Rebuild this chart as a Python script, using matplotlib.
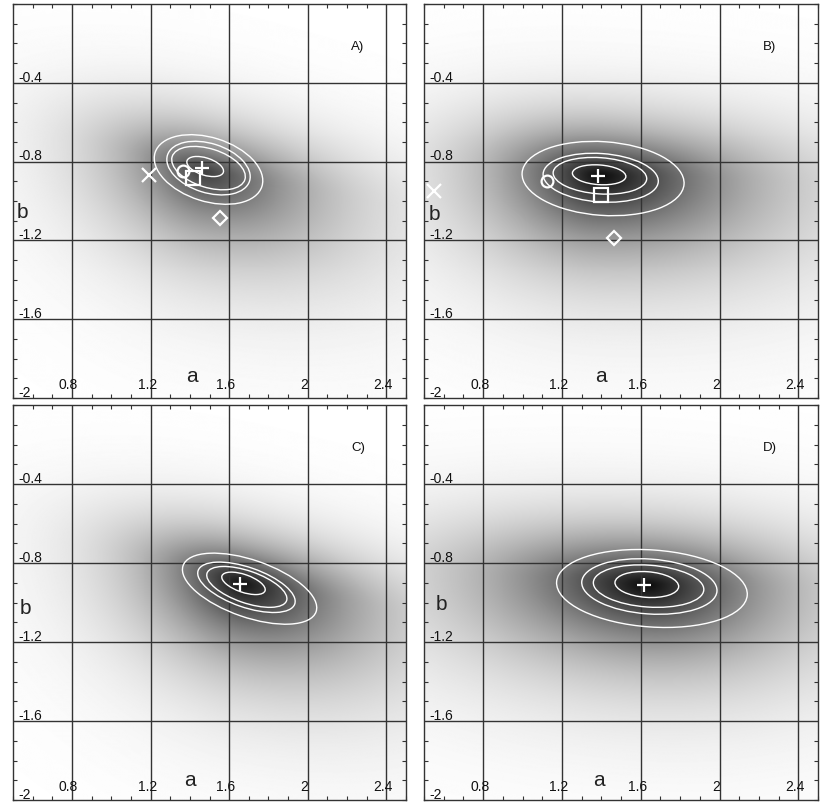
import numpy as np
import matplotlib.pyplot as plt
from matplotlib.patches import Ellipse

plt.rcParams['font.family'] = ['Liberation Sans', 'DejaVu Sans']

# axes ranges, grid and tick labels (same in every panel)
a_lim = (0.5, 2.5)
b_lim = (-2.0, 0.0)
a_ticks = [0.8, 1.2, 1.6, 2.0, 2.4]
a_labels = ['0.8', '1.2', '1.6', '2', '2.4']
b_ticks = [-0.4, -0.8, -1.2, -1.6]
b_labels = ['-0.4', '-0.8', '-1.2', '-1.6']
panel_names = ['A)', 'B)', 'C)', 'D)']

# grey background density: centre, depth, shear, scales left/right/up/down
shade_a0 = [1.47, 1.39, 1.66, 1.63]
shade_b0 = [-0.85, -0.87, -0.90, -0.91]
shade_depth = [0.75, 0.95, 0.92, 0.95]
shade_shear = [0.20, 0.05, 0.20, 0.05]
shade_left = [0.44, 0.50, 0.45, 0.75]
shade_right = [0.60, 0.72, 0.60, 0.65]
shade_up = [0.21, 0.22, 0.20, 0.23]
shade_down = [0.36, 0.36, 0.36, 0.35]

# white contours: (a centre, b centre, semi-major, semi-minor, angle in deg)
contours_A = [(1.495, -0.840, 0.285, 0.162, -17.5), (1.495, -0.833, 0.219, 0.125, -17.5),
              (1.495, -0.833, 0.194, 0.098, -17.5), (1.478, -0.825, 0.097, 0.044, -17.5)]
contours_B = [(1.409, -0.886, 0.412, 0.187, -4), (1.397, -0.882, 0.293, 0.123, -4),
              (1.393, -0.872, 0.238, 0.092, -4), (1.389, -0.867, 0.136, 0.050, -4)]
contours_C = [(1.704, -0.930, 0.358, 0.145, -19), (1.688, -0.923, 0.260, 0.101, -19),
              (1.690, -0.921, 0.214, 0.081, -19), (1.673, -0.903, 0.116, 0.045, -19)]
contours_D = [(1.657, -0.929, 0.485, 0.195, -4), (1.644, -0.919, 0.344, 0.139, -4),
              (1.640, -0.917, 0.281, 0.106, -4), (1.631, -0.909, 0.162, 0.065, -4)]
all_contours = [contours_A, contours_B, contours_C, contours_D]

# point estimates
plus_a = [1.460, 1.384, 1.656, 1.617]
plus_b = [-0.833, -0.872, -0.906, -0.911]
circle_a = [1.364, 1.123]
circle_b = [-0.847, -0.901]
square_a = [1.418, 1.396]
square_b = [-0.884, -0.969]
cross_a = [1.194, 0.553]
cross_b = [-0.867, -0.950]
diamond_a = [1.554, 1.464]
diamond_b = [-1.084, -1.188]

# axis name positions
aname_pos = [(1.41, -1.89), (1.40, -1.89), (1.40, -1.90), (1.39, -1.90)]
bname_pos = [(0.548, -1.06), (0.553, -1.07), (0.565, -1.03), (0.587, -1.01)]


def shade(A, B, i):
    u = A - shade_a0[i]
    v = (B - shade_b0[i]) + shade_shear[i] * u
    su = np.where(u < 0, shade_left[i], shade_right[i])
    sv = np.where(v > 0, shade_up[i], shade_down[i])
    r = np.sqrt((u / su)**2 + (v / sv)**2)
    return 1 - shade_depth[i] * np.exp(-r**1.2)


fig = plt.figure(figsize=(8.3, 8.06), dpi=100)
W, H = 830., 806.
# panel boxes in pixels: left, top, right, bottom
boxes = [(13, 4, 406, 398), (424, 4, 818, 398), (13, 405, 406, 800), (424, 405, 818, 800)]

ga = np.linspace(a_lim[0], a_lim[1], 400)
gb = np.linspace(b_lim[0], b_lim[1], 400)
GA, GB = np.meshgrid(ga, gb)

gridcol = '#333333'
txtcol = '#111111'

for i in range(4):
    l, t, r, btm = boxes[i]
    ax = fig.add_axes([l / W, 1 - btm / H, (r - l) / W, (btm - t) / H])

    ax.imshow(shade(GA, GB, i), extent=[a_lim[0], a_lim[1], b_lim[0], b_lim[1]],
              origin='lower', cmap='gray', vmin=0, vmax=1, aspect='auto',
              interpolation='bilinear', zorder=0)

    for x in a_ticks:
        ax.axvline(x, color=gridcol, lw=1.0, zorder=1)
    for y in b_ticks:
        ax.axhline(y, color=gridcol, lw=1.0, zorder=1)

    for (ea, eb, w, h, ang) in all_contours[i]:
        ax.add_patch(Ellipse((ea, eb), 2 * w, 2 * h, angle=ang, fill=False,
                             ec='white', lw=1.0, zorder=3))

    mk = dict(color='white', mew=1.6, ls='none', zorder=4)
    ax.plot(plus_a[i], plus_b[i], marker='+', ms=10, **mk)
    if i < 2:
        ax.plot(circle_a[i], circle_b[i], marker='o', ms=8.5, mfc='none', **mk)
        ax.plot(square_a[i], square_b[i], marker='s', ms=9.5, mfc='none', **mk)
        ax.plot(cross_a[i], cross_b[i], marker='x', ms=9.5, **mk)
        ax.plot(diamond_a[i], diamond_b[i], marker='D', ms=7, mfc='none', **mk)

    ax.set_xlim(*a_lim)
    ax.set_ylim(*b_lim)
    ax.set_xticks(a_ticks)
    ax.set_yticks(b_ticks)
    ax.set_xticks(np.arange(0.5, 2.51, 0.1), minor=True)
    ax.set_yticks(np.arange(-2.0, 0.01, 0.1), minor=True)
    ax.tick_params(which='major', length=0, labelbottom=False, labelleft=False)
    ax.tick_params(which='minor', direction='in', length=3, width=0.8, color=gridcol,
                   top=True, right=True)
    for s in ax.spines.values():
        s.set_color(gridcol)
        s.set_linewidth(1.0)

    # tick labels drawn inside the frame
    for x, lab in zip(a_ticks, a_labels):
        ax.text(x - 0.017, -1.952, lab, ha='center', va='baseline', fontsize=10, color=txtcol)
    for y, lab in zip(b_ticks, b_labels):
        ax.text(0.525, y + 0.006, lab, ha='left', va='baseline', fontsize=10, color=txtcol)
    ax.text(0.525, -1.997, '-2', ha='left', va='baseline', fontsize=10, color=txtcol)

    ax.text(aname_pos[i][0], aname_pos[i][1], 'a', ha='center', va='center', fontsize=15,
            color='#222222')
    ax.text(bname_pos[i][0], bname_pos[i][1], 'b', ha='center', va='center', fontsize=15,
            color='#222222')
    ax.text(2.255, -0.217, panel_names[i], ha='center', va='center', fontsize=9.5,
            color=txtcol)

fig.savefig('out.png', dpi=100)
